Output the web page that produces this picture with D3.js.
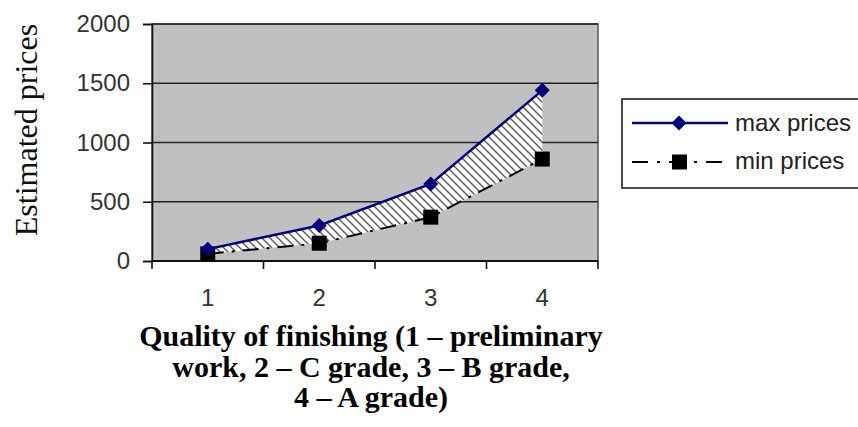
<!DOCTYPE html>
<html>
<head>
<meta charset="utf-8">
<script src="https://cdn.jsdelivr.net/npm/d3@7"></script>
<style>
  body { margin: 0; background: #fff; }
  .tick text { font-family: 'Liberation Sans', Arial, sans-serif; fill: #333; }
</style>
</head>
<body>
<div class="chart"></div>
<script>
// chart values
const categories = ['1', '2', '3', '4'];
const maxPrices = [100, 300, 650, 1440];
const minPrices = [60, 150, 370, 860];
const yTicks = [0, 500, 1000, 1500, 2000];
const seriesNames = ['max prices', 'min prices'];
const yTitle = 'Estimated prices';
const xTitleLines = ['Quality of finishing (1 \u2013 preliminary', 'work, 2 \u2013 C grade, 3 \u2013 B grade,', '4 \u2013 A grade)'];

const width = 858;
const height = 427;
const plot = {left: 152, right: 598, top: 24, bottom: 261};

const svg = d3.select('.chart')
  .append('svg')
    .attr('width', width)
    .attr('height', height);

const x = d3.scaleBand().domain(categories).range([plot.left, plot.right]);
const y = d3.scaleLinear().domain([0, 2000]).range([plot.bottom, plot.top]);
const cx = (d) => x(d) + x.bandwidth() / 2;

// hatch pattern for the band between series
const defs = svg.append('defs');
defs.append('pattern')
    .attr('id', 'hatch')
    .attr('patternUnits', 'userSpaceOnUse')
    .attr('width', 8)
    .attr('height', 8)
  .append('path')
    .attr('d', 'M0,0 L8,8 M-2,6 L2,10 M6,-2 L10,2')
    .attr('stroke', '#5a5a5a')
    .attr('stroke-width', 1.4);

// plot area
svg.append('rect')
  .attr('x', plot.left)
  .attr('y', plot.top)
  .attr('width', plot.right - plot.left)
  .attr('height', plot.bottom - plot.top)
  .attr('fill', '#c0c0c0')
  .attr('stroke', '#555')
  .attr('stroke-width', 1.5);

// gridlines
svg.append('g')
  .selectAll('line')
  .data(yTicks.filter((d) => d > 0))
  .enter()
  .append('line')
    .attr('x1', plot.left)
    .attr('x2', plot.right)
    .attr('y1', (d) => y(d))
    .attr('y2', (d) => y(d))
    .attr('stroke', '#222')
    .attr('stroke-width', 1.6);

// y axis
const yAxis = svg.append('g')
  .attr('transform', `translate(${plot.left},0)`)
  .call(d3.axisLeft(y).tickValues(yTicks).tickFormat(d3.format('d')).tickSize(9).tickPadding(13));
yAxis.select('.domain').attr('stroke', '#111').attr('stroke-width', 1.6);
yAxis.selectAll('.tick line').attr('stroke', '#111').attr('stroke-width', 1.6);
yAxis.selectAll('.tick text').style('font-size', '24px');

// x axis (labels at band centres, ticks at band edges)
const xAxis = svg.append('g')
  .attr('transform', `translate(0,${plot.bottom})`)
  .call(d3.axisBottom(x).tickSize(0).tickPadding(28));
xAxis.select('.domain').remove();
xAxis.selectAll('.tick text').style('font-size', '24px');

svg.append('line')
  .attr('x1', plot.left)
  .attr('x2', plot.right)
  .attr('y1', plot.bottom)
  .attr('y2', plot.bottom)
  .attr('stroke', '#111')
  .attr('stroke-width', 1.8);

svg.append('g')
  .selectAll('line')
  .data(categories.map((d) => x(d)).concat([plot.right]))
  .enter()
  .append('line')
    .attr('x1', (d) => d)
    .attr('x2', (d) => d)
    .attr('y1', plot.bottom)
    .attr('y2', plot.bottom + 8)
    .attr('stroke', '#111')
    .attr('stroke-width', 1.6);

// hatched band between max and min
const bandData = categories.map((c, i) => ({c: c, hi: maxPrices[i], lo: minPrices[i]}));
const band = d3.area().x((d) => cx(d.c)).y0((d) => y(d.lo)).y1((d) => y(d.hi));
svg.append('path')
  .datum(bandData)
  .attr('d', band)
  .attr('fill', '#fff');
svg.append('path')
  .datum(bandData)
  .attr('d', band)
  .attr('fill', 'url(#hatch)');

// min series
svg.append('path')
  .datum(minPrices)
  .attr('d', d3.line().x((d, i) => cx(categories[i])).y((d) => y(d)))
  .attr('fill', 'none')
  .attr('stroke', '#000')
  .attr('stroke-width', 2)
  .attr('stroke-dasharray', '16,8,3,8');

svg.append('g')
  .selectAll('rect')
  .data(minPrices)
  .enter()
  .append('rect')
    .attr('x', (d, i) => cx(categories[i]) - 7.5)
    .attr('y', (d) => y(d) - 7.5)
    .attr('width', 15)
    .attr('height', 15)
    .attr('fill', '#000');

// max series
svg.append('path')
  .datum(maxPrices)
  .attr('d', d3.line().x((d, i) => cx(categories[i])).y((d) => y(d)))
  .attr('fill', 'none')
  .attr('stroke', '#000080')
  .attr('stroke-width', 2.5);

const diamond = (px, py, r) => `M${px},${py - r}L${px + r},${py}L${px},${py + r}L${px - r},${py}Z`;
svg.append('g')
  .selectAll('path')
  .data(maxPrices)
  .enter()
  .append('path')
    .attr('d', (d, i) => diamond(cx(categories[i]), y(d), 7.5))
    .attr('fill', '#000080');

// axis titles
svg.append('text')
  .attr('transform', `translate(37,130) rotate(-90)`)
  .style('text-anchor', 'middle')
  .style('font-family', "'Liberation Serif', 'Times New Roman', serif")
  .style('font-size', '32px')
  .attr('fill', '#111')
  .text(yTitle);

svg.append('g')
  .selectAll('text')
  .data(xTitleLines)
  .enter()
  .append('text')
    .attr('x', 371)
    .attr('y', (d, i) => 346 + i * 30.5)
    .style('text-anchor', 'middle')
    .style('font-family', "'Liberation Serif', 'Times New Roman', serif")
    .style('font-weight', 'bold')
    .style('font-size', '30px')
    .attr('fill', '#000')
    .text((d) => d);

// legend
const legend = svg.append('g');
legend.append('rect')
  .attr('x', 622)
  .attr('y', 99)
  .attr('width', 260)
  .attr('height', 89)
  .attr('fill', '#fff')
  .attr('stroke', '#111')
  .attr('stroke-width', 1.5);

legend.append('line')
  .attr('x1', 632).attr('x2', 728)
  .attr('y1', 123).attr('y2', 123)
  .attr('stroke', '#000080')
  .attr('stroke-width', 2.5);
legend.append('path')
  .attr('d', diamond(679, 123, 7.5))
  .attr('fill', '#000080');

legend.append('line')
  .attr('x1', 632).attr('x2', 728)
  .attr('y1', 162).attr('y2', 162)
  .attr('stroke', '#000')
  .attr('stroke-width', 2)
  .attr('stroke-dasharray', '16,9,3,9');
legend.append('rect')
  .attr('x', 672).attr('y', 154.5)
  .attr('width', 15).attr('height', 15)
  .attr('fill', '#000');

legend.selectAll('.smiles')
  .data(seriesNames)
  .enter()
  .append('text')
    .attr('class', 'smiles')
    .attr('x', 735)
    .attr('y', (d, i) => 131 + i * 38)
    .style('font-family', "'Liberation Sans', Arial, sans-serif")
    .style('font-size', '24px')
    .attr('fill', '#222')
    .text((d) => d);
</script>
</body>
</html>
